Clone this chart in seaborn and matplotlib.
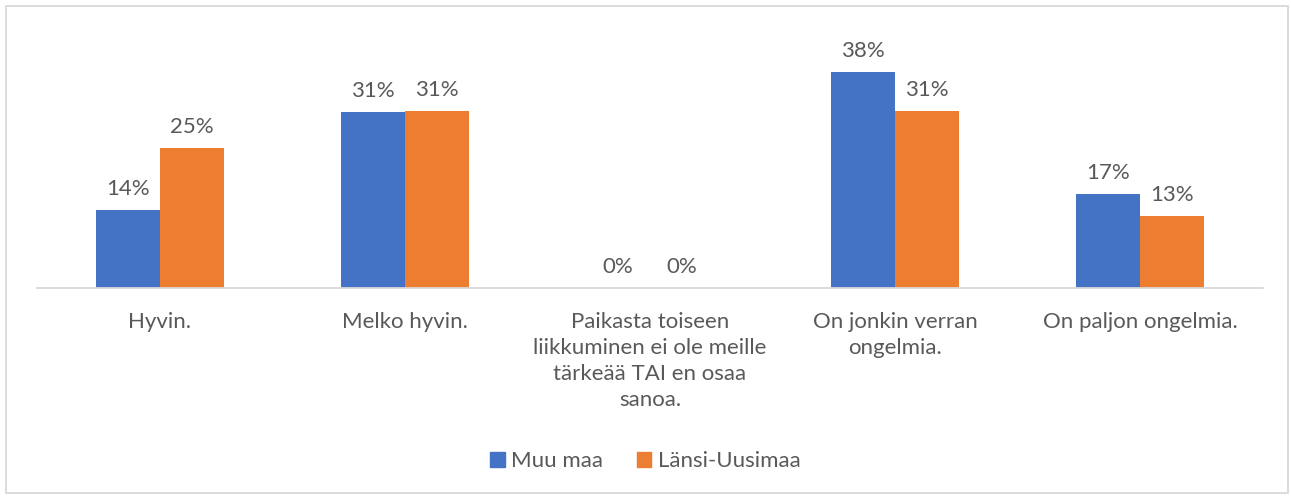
import seaborn as sns
import pandas as pd
import matplotlib.pyplot as plt
from matplotlib.patches import Rectangle

categories = ['Hyvin.', 'Melko hyvin.',
              'Paikasta toiseen\nliikkuminen ei ole meille\ntärkeää TAI en osaa\nsanoa.',
              'On jonkin verran\nongelmia.', 'On paljon ongelmia.']
muu_maa = [13.7, 31.0, 0.0, 38.0, 16.6]
lansi_uusimaa = [24.6, 31.2, 0.0, 31.2, 12.6]
series = ['Muu maa', 'Länsi-Uusimaa']

df = pd.DataFrame({
    'cat': categories * 2,
    'val': muu_maa + lansi_uusimaa,
    'series': [series[0]] * 5 + [series[1]] * 5,
})

sns.set_style('white')
plt.rcParams['font.family'] = ['Lato', 'DejaVu Sans']
grey = '#595959'
fs = 16

fig = plt.figure(figsize=(12.91, 4.96), dpi=100)
ax = fig.add_axes([37/1291, (496-288)/496, (1263-37)/1291, (288-30)/496])
sns.barplot(data=df, x='cat', y='val', hue='series', ax=ax, width=0.522,
            palette=['#4472C4', '#ED7D31'], saturation=1, legend=False, linewidth=0)

for c in ax.containers:
    ax.bar_label(c, fmt='%.0f%%', padding=8, fontsize=fs, color=grey)

ax.set_ylim(0, 45.4)
ax.set_xlim(-0.5, 4.5)
ax.set_xlabel('')
ax.set_ylabel('')
ax.set_yticks([])
for s in ['top', 'left', 'right']:
    ax.spines[s].set_visible(False)
ax.spines['bottom'].set_color('#D9D9D9')
ax.spines['bottom'].set_linewidth(1.3)
ax.tick_params(axis='x', length=0, pad=17, labelsize=fs, labelcolor=grey)
for t in ax.get_xticklabels():
    t.set_linespacing(1.38)

handles = [Rectangle((0, 0), 1, 1, color='#4472C4'), Rectangle((0, 0), 1, 1, color='#ED7D31')]
fig.legend(handles, series, loc='center', bbox_to_anchor=(0.5, 1 - 461/496), ncol=2,
           frameon=False, fontsize=fs, labelcolor=grey, handlelength=0.65, handleheight=0.65,
           handletextpad=0.3, columnspacing=1.5)

fig.add_artist(Rectangle((6/1291, 3/496), 1282/1291, 487/496, transform=fig.transFigure,
                         fill=False, edgecolor='#D9D9D9', linewidth=1.3))

fig.savefig('out.png', dpi=100)
